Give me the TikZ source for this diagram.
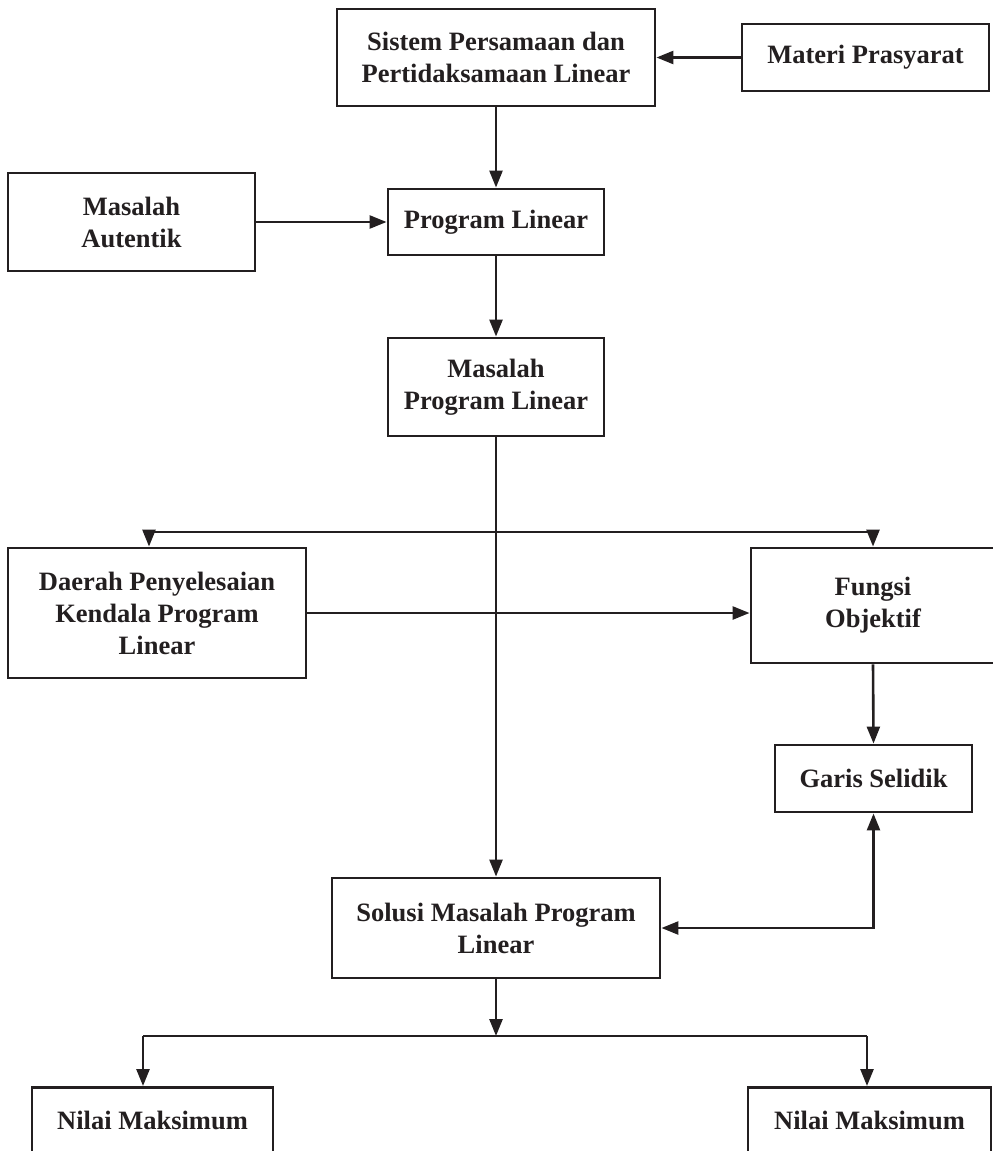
\documentclass[tikz,border=0pt]{standalone}
\usepackage{fontspec}
\setmainfont{Liberation Serif}
\usetikzlibrary{arrows.meta}
\definecolor{ink}{HTML}{231F20}
\tikzset{
  box/.style={draw=ink, line width=2.9pt, rectangle, align=center, text=ink,
    font=\fontsize{26.5}{32}\selectfont\bfseries, inner sep=0pt},
  conn/.style={draw=ink, line width=2.6pt},
  arr/.style={conn, -{Triangle[length=17pt,width=13pt]}},
  darr/.style={conn, {Triangle[length=17pt,width=13pt]}-{Triangle[length=17pt,width=13pt]}},
  openbox/.style={box, anchor=north, text height=42pt, text depth=60pt}
}
\begin{document}
\begin{tikzpicture}[x=1pt,y=-1pt]
\useasboundingbox (0,0) rectangle (993,1151);
\clip (0,0) rectangle (993,1151);
\fill[white] (0,0) rectangle (993,1151);
\node[box, minimum width=318pt, minimum height=97pt] (sys) at (496,57.5) {Sistem Persamaan dan\\Pertidaksamaan Linear};
\node[box, minimum width=247pt, minimum height=67pt] (mat) at (865.5,57.5) {Materi Prasyarat};
\node[box, minimum width=247pt, minimum height=98pt] (aut) at (131.5,222) {Masalah\\Autentik};
\node[box, minimum width=216pt, minimum height=66pt] (pl) at (496,222) {Program Linear};
\node[box, minimum width=216pt, minimum height=98pt] (mpl) at (496,387) {Masalah\\Program Linear};
\node[box, minimum width=298pt, minimum height=130pt] (dae) at (157,613) {Daerah Penyelesaian\\Kendala Program\\Linear};
\node[box, minimum width=244pt, minimum height=115pt] (fun) at (873,605.5) {Fungsi\\Objektif};
\node[box, minimum width=197pt, minimum height=67pt] (gar) at (873.5,778.5) {Garis Selidik};
\node[box, minimum width=328pt, minimum height=100pt] (sol) at (496,928) {Solusi Masalah Program\\Linear};
\node[openbox, minimum width=241pt] (nl) at (152.5,1086) {Nilai Maksimum};
\node[openbox, minimum width=243pt] (nr) at (869.5,1086) {Nilai Maksimum};
% connectors
\draw[arr] (mat.west) -- (sys.east);
\draw[arr] (sys.south) -- (pl.north);
\draw[arr] (aut.east) -- (pl.west);
\draw[arr] (pl.south) -- (mpl.north);
\draw[arr] (mpl.south) -- (sol.north);
\coordinate (bl) at (149,532);
\coordinate (br) at (873,532);
\draw[arr] (bl) -- (bl |- dae.north);
\draw[arr] (br) -- (fun.north);
\draw[conn] (bl) -- (br);
\draw[arr] (dae.east |- 0,613) -- (fun.west |- 0,613);
\draw[arr] (fun.south) -- (gar.north);
\draw[darr] (gar.south) |- (sol.east);
\coordinate (ml) at (143,1036);
\coordinate (mr) at (867,1036);
\coordinate (mc) at (496,1036);
\draw[arr] (sol.south) -- (mc);
\draw[conn] (ml) -- (mr);
\draw[arr] (ml) -- (ml |- nl.north);
\draw[arr] (mr) -- (mr |- nr.north);
\end{tikzpicture}
\end{document}
